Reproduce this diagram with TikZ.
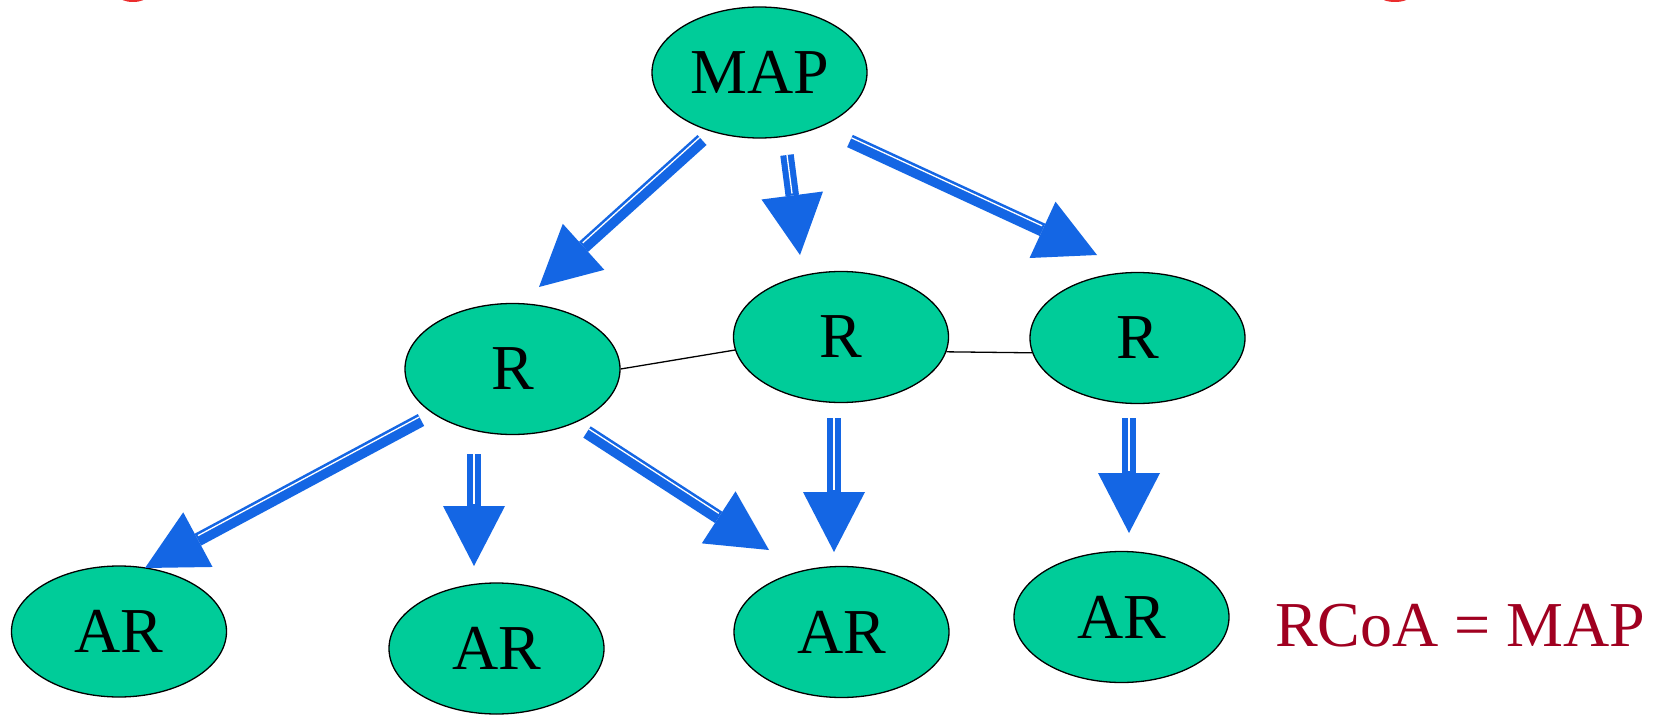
\documentclass[tikz,border=0pt]{standalone}
\usepackage{fontspec}
\setmainfont{Liberation Serif}
\usetikzlibrary{shapes.geometric,arrows.meta,calc}

\definecolor{nodegreen}{RGB}{0,204,153}
\definecolor{flowblue}{RGB}{20,102,228}
\definecolor{labelred}{RGB}{160,0,32}
\definecolor{markred}{RGB}{235,45,45}

\tikzset{
  entity/.style={ellipse, draw=black, line width=1.3pt, fill=nodegreen,
    minimum width=215pt, minimum height=131pt, inner sep=0pt,
    font=\fontsize{64}{70}\selectfont},
  peerlink/.style={draw=black, line width=1.3pt},
  flowshaft/.style={draw=flowblue, line width=13.5pt,
    -{Triangle[length=60pt,width=62pt,line width=0pt]}},
  flowstripe/.style={draw=white, line width=1.3pt, shorten >=62pt},
  biglabel/.style={text=labelred, inner sep=0pt, anchor=base west,
    font=\fontsize{64}{70}\selectfont},
}

% thick blue arrow with a thin light stripe along its shaft;
% #1 = sideways offset of the stripe, #2 = tail, #3 = tip
\newcommand{\flowarrow}[3]{%
  \draw[flowshaft] (#2) -- (#3);
  \draw[flowstripe] ($(#2)!#1!90:(#3)$) -- ($(#3)!#1!-90:(#2)$);}

\begin{document}
\begin{tikzpicture}[x=1pt,y=-1pt]
  \useasboundingbox[fill=white] (0,0) rectangle (1658,717);

  % partial marks cut by the upper edge
  \begin{scope}
    \clip (0,0) rectangle (1658,717);
    \fill[markred] (133,-4) ellipse [x radius=14pt, y radius=6pt];
    \fill[markred] (1395,-4) ellipse [x radius=15pt, y radius=6pt];
  \end{scope}

  % nodes
  \node[entity] (map) at (759.5,72.5) {MAP};
  \node[entity] (r1)  at (512.5,369)  {R};
  \node[entity] (r2)  at (841,337)    {R};
  \node[entity] (r3)  at (1137.5,338) {R};
  \node[entity] (ar1) at (119,631.5)  {AR};
  \node[entity] (ar2) at (496.5,648.5) {AR};
  \node[entity] (ar3) at (841.5,632)  {AR};
  \node[entity] (ar4) at (1121.5,617) {AR};

  \node[biglabel] (eq) at (1275,646) {RCoA = MAP};

  % links between the R nodes
  \draw[peerlink] (r1.east) -- (r2.187);
  \draw[peerlink] (r2.-8) -- (r3.188);

  % arrow ends
  \coordinate (m1s) at (702,140);  \coordinate (m1e) at (539,287);
  \coordinate (m2s) at (787,155);  \coordinate (m2e) at (800,255);
  \coordinate (m3s) at (850,141);  \coordinate (m3e) at (1097,255);
  \coordinate (a1s) at (421,420);  \coordinate (a1e) at (145,568);
  \coordinate (a2s) at (474,454);  \coordinate (a2e) at (474,566);
  \coordinate (a3s) at (587,432);  \coordinate (a3e) at (769,550);
  \coordinate (b3s) at (834,418);  \coordinate (b3e) at (834,552);
  \coordinate (c4s) at (1129,418); \coordinate (c4e) at (1129,533);

  \flowarrow{-3.5pt}{m1s}{m1e}
  \flowarrow{0pt}{m2s}{m2e}
  \flowarrow{3.5pt}{m3s}{m3e}
  \flowarrow{-3.5pt}{a1s}{a1e}
  \flowarrow{0pt}{a2s}{a2e}
  \flowarrow{3.5pt}{a3s}{a3e}
  \flowarrow{0pt}{b3s}{b3e}
  \flowarrow{0pt}{c4s}{c4e}
\end{tikzpicture}
\end{document}
